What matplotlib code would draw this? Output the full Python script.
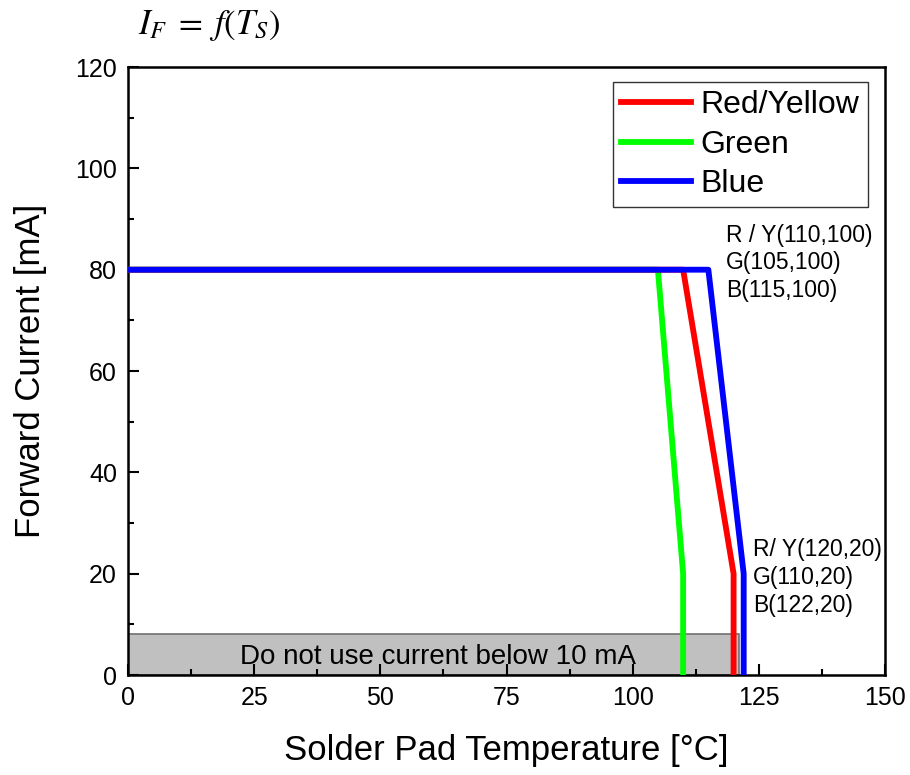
import matplotlib.pyplot as plt
from matplotlib.patches import Rectangle
from matplotlib.ticker import MultipleLocator

plt.rcParams['font.family'] = ['Liberation Sans', 'DejaVu Sans']
plt.rcParams['mathtext.fontset'] = 'stix'

# derating curves: temperature [°C] vs forward current [mA]
red_t = [0, 110, 120, 120]
red_i = [80, 80, 20, 0]
green_t = [0, 105, 110, 110]
green_i = [80, 80, 20, 0]
blue_t = [0, 115, 122, 122]
blue_i = [80, 80, 20, 0]

labels = ["Red/Yellow", "Green", "Blue"]
upper_notes = ["R / Y(110,100)", "G(105,100)", "B(115,100)"]
lower_notes = ["R/ Y(120,20)", "G(110,20)", "B(122,20)"]

fig = plt.figure(figsize=(9.1, 7.75), dpi=100)
ax = fig.add_axes([0.1407, 0.129, 0.8318, 0.7845])

# forbidden region
ax.add_patch(Rectangle((0, 0), 121, 8, facecolor="#c0c0c0", edgecolor="#707070", lw=1.2, zorder=1))
ax.text(61.5, 3.6, "Do not use current below 10 mA", ha="center", va="center", fontsize=20, zorder=2)

ax.plot(green_t, green_i, color="#00ff00", lw=4.2, label=labels[1], zorder=3)
ax.plot(red_t, red_i, color="#ff0000", lw=4.2, label=labels[0], zorder=4)
ax.plot(blue_t, blue_i, color="#0000ff", lw=4.2, label=labels[2], zorder=5)

h, l = ax.get_legend_handles_labels()
order = [1, 0, 2]
leg = ax.legend([h[i] for i in order], [l[i] for i in order], loc="upper right",
                bbox_to_anchor=(0.977, 0.975), fontsize=23, frameon=True, fancybox=False,
                edgecolor="black", handlelength=2.2, handletextpad=0.3, borderpad=0.25,
                labelspacing=0.3, borderaxespad=0)
leg.get_frame().set_linewidth(1.0)

for k, s in enumerate(upper_notes):
    ax.text(118.5, 86.8 - k * 5.45, s, fontsize=16.5, ha="left", va="center")
for k, s in enumerate(lower_notes):
    ax.text(123.8, 24.8 - k * 5.5, s, fontsize=16.5, ha="left", va="center")

ax.set_xlim(0, 150)
ax.set_ylim(0, 120)
ax.xaxis.set_major_locator(MultipleLocator(25))
ax.xaxis.set_minor_locator(MultipleLocator(12.5))
ax.yaxis.set_major_locator(MultipleLocator(20))
ax.yaxis.set_minor_locator(MultipleLocator(10))
ax.tick_params(which="both", direction="in", width=1.5, labelsize=18, pad=8)
ax.tick_params(which="major", length=8)
ax.tick_params(which="minor", length=4)
for sp in ax.spines.values():
    sp.set_linewidth(1.8)

ax.set_xlabel("Solder Pad Temperature [°C]", fontsize=25, labelpad=17)
ax.set_ylabel("Forward Current [mA]", fontsize=25, labelpad=20)

fig.text(0.152, 0.967, r"$I_F\;=\;f\left(T_S\right)$", fontsize=25, ha="left", va="center")

fig.savefig("out.png", dpi=100)
